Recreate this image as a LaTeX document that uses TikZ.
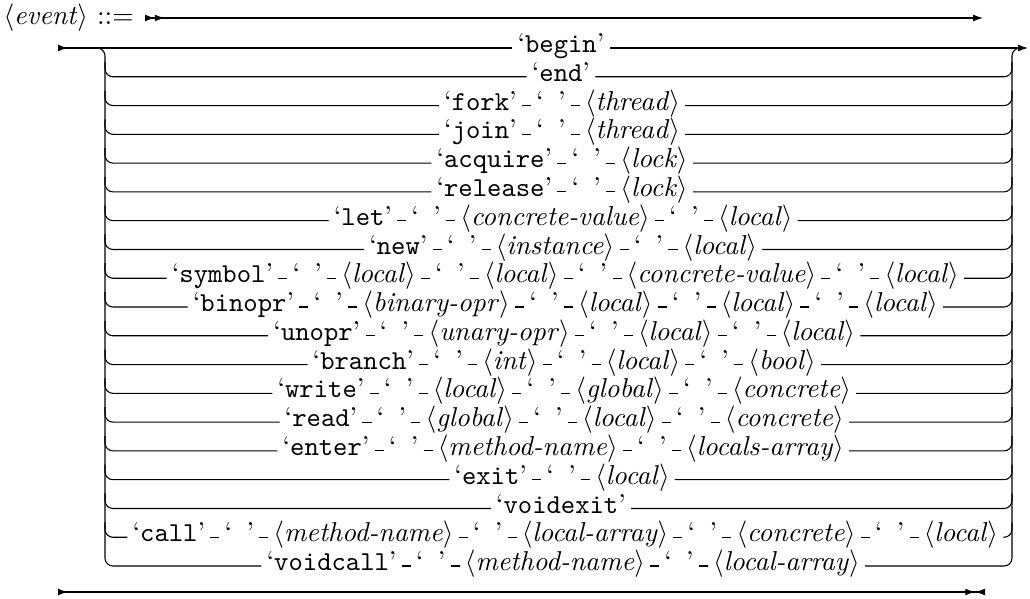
\documentclass[tikz,border=0pt]{standalone}
\usetikzlibrary{arrows.meta}

\newlength\evrowwd
\newlength\evdash \setlength\evdash{3.3pt}
\newlength\evsep  \setlength\evsep{1.7pt}
\newcommand\kw[1]{\textquoteleft\texttt{#1}\textquoteright}
\newcommand\nt[1]{$\langle$\textit{#1}$\rangle$}
\newcommand\blank{\textquoteleft\texttt{\ }\textquoteright}

% the alternatives of the rule, one group per row
\newcommand\evrows{%
    {\kw{begin}},%
    {\kw{end}},%
    {\kw{fork},\blank,\nt{thread}},%
    {\kw{join},\blank,\nt{thread}},%
    {\kw{acquire},\blank,\nt{lock}},%
    {\kw{release},\blank,\nt{lock}},%
    {\kw{let},\blank,\nt{concrete-value},\blank,\nt{local}},%
    {\kw{new},\blank,\nt{instance},\blank,\nt{local}},%
    {\kw{symbol},\blank,\nt{local},\blank,\nt{local},\blank,\nt{concrete-value},\blank,\nt{local}},%
    {\kw{binopr},\blank,\nt{binary-opr},\blank,\nt{local},\blank,\nt{local},\blank,\nt{local}},%
    {\kw{unopr},\blank,\nt{unary-opr},\blank,\nt{local},\blank,\nt{local}},%
    {\kw{branch},\blank,\nt{int},\blank,\nt{local},\blank,\nt{bool}},%
    {\kw{write},\blank,\nt{local},\blank,\nt{global},\blank,\nt{concrete}},%
    {\kw{read},\blank,\nt{global},\blank,\nt{local},\blank,\nt{concrete}},%
    {\kw{enter},\blank,\nt{method-name},\blank,\nt{locals-array}},%
    {\kw{exit},\blank,\nt{local}},%
    {\kw{voidexit}},%
    {\kw{call},\blank,\nt{method-name},\blank,\nt{local-array},\blank,\nt{concrete},\blank,\nt{local}},%
    {\kw{voidcall},\blank,\nt{method-name},\blank,\nt{local-array}}}

\begin{document}
% widths of the rows, taken outside the picture (no \nullfont there)
\foreach \items [count=\r] in \evrows {%
    \global\evrowwd=0pt
    \foreach \tok in \items {\setbox0=\hbox{\tok}\global\advance\evrowwd by \dimexpr\wd0+2\evsep+\evdash\relax}%
    \expandafter\xdef\csname evw\r\endcsname{\the\evrowwd}%
}
\begin{tikzpicture}[x=0.366pt, y=-0.366pt, line width=0.4pt,
    >={Latex[length=3.6pt,width=2.5pt]},
    item/.style={inner xsep=\evsep, inner ysep=0pt, text height=6.2pt, text depth=2.8pt, anchor=west},
    rail/.style={rounded corners=2.9pt}]
    \useasboundingbox (0,0) rectangle (1030,599);

    % head of the rule
    \node[anchor=west, inner sep=0pt] (lhs) at (3,18) {\nt{event} ::=};
    \coordinate (top-in) at (145,18);
    \coordinate (top-out) at (983,18);
    \draw[{>>}->] (top-in) -- (top-out);

    \coordinate (lrail) at (105,0);
    \coordinate (rrail) at (1012,0);

    % one row per alternative, centred between the rails
    \foreach \items [count=\r] in \evrows {
        \pgfmathsetmacro\y{48+28.78*(\r-1)}
        \global\evrowwd=\csname evw\r\endcsname\relax
        \node[inner sep=0pt] (r\r-0) at ([xshift=-0.5\evrowwd-0.5\evdash]558.5,\y) {};
        \foreach \tok [count=\i, remember=\i as \prev (initially 0)] in \items {
            \node[item] (r\r-\i) at ([xshift=\evdash]r\r-\prev.east) {\tok};
            \ifnum\i>1 \draw (r\r-\prev) -- (r\r-\i); \fi
            \xdef\nlast{\i}
        }
        \ifnum\r>1 \ifnum\r<19
            \draw[rail] (105,\y-15) |- (r\r-1.west);
            \draw[rail] (r\r-\nlast.east) -| (1012,\y-15);
        \fi\fi
    }

    % rails
    \coordinate (in) at (58,48);
    \coordinate (out) at (1028,48);
    \draw[{>}-] (in) -- (r1-1);
    \draw[->] (r1-1) -- (out);
    \draw[rail] (in) -| (lrail |- r19-1.west) -- (r19-1.west);
    \draw[rail] (r19-\nlast.east) -| (rrail |- out) -- (1020,48);

    % tail of the rule
    \coordinate (bot-in) at (58,592);
    \coordinate (bot-out) at (985,592);
    \draw[{>}-{> >[reversed]}] (bot-in) -- (bot-out);
\end{tikzpicture}
\end{document}
